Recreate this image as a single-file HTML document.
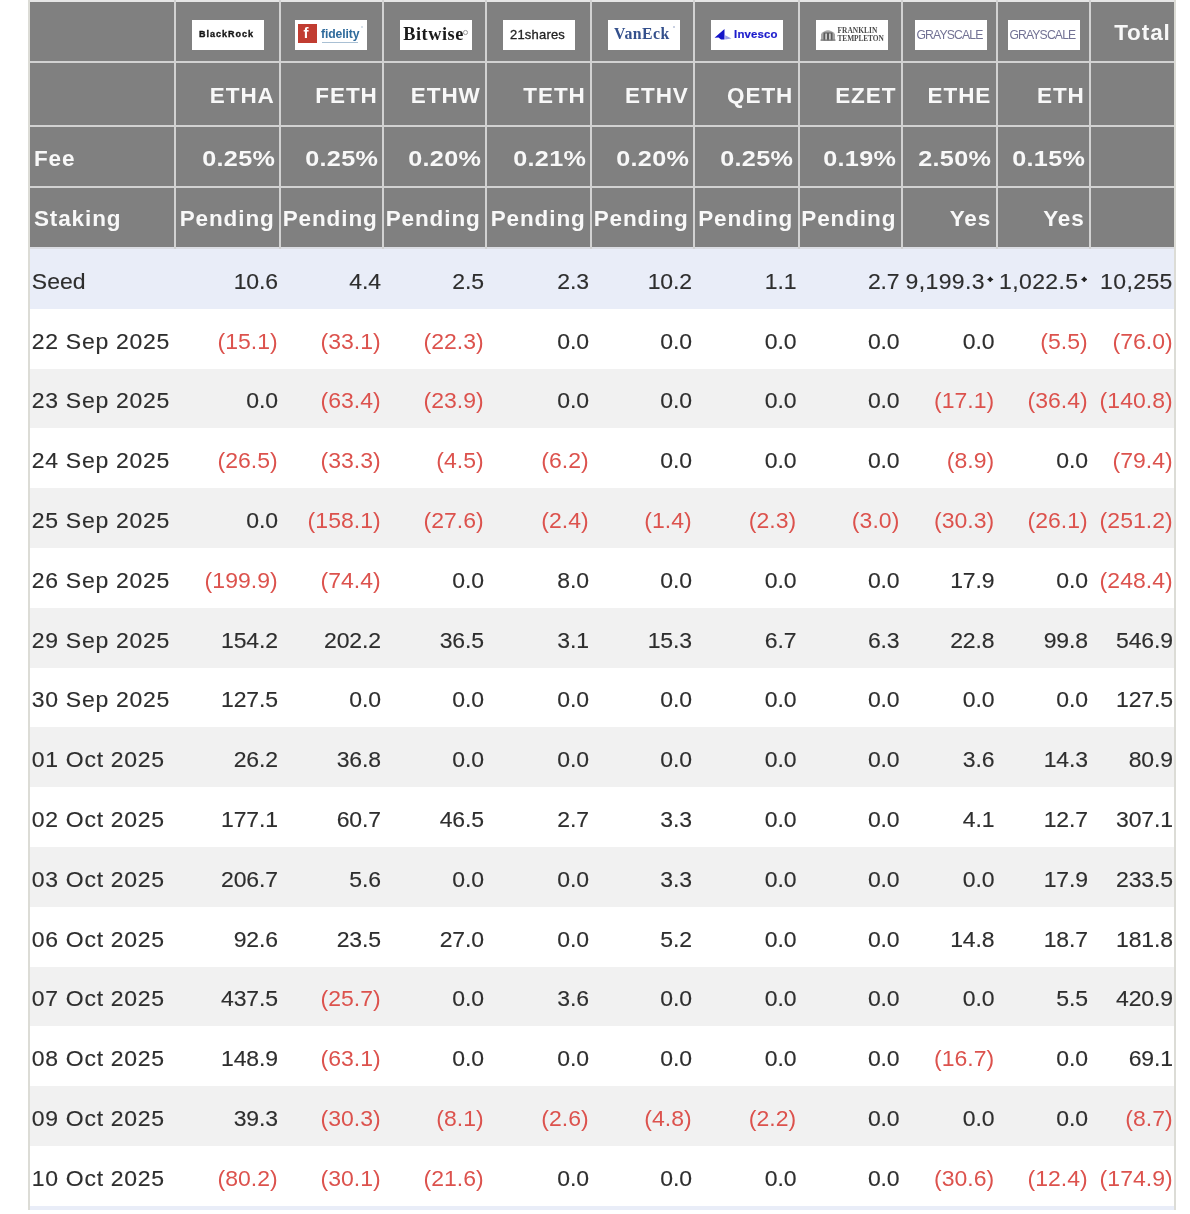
<!DOCTYPE html>
<html><head><meta charset="utf-8"><style>
html,body{margin:0;padding:0;background:#fff;width:1190px;height:1214px;overflow:hidden;position:relative}
#w{position:absolute;left:0;top:0;width:1190px;height:1214px;filter:blur(0.5px)}
#w>div{position:absolute}
.hdr{background:#808080}
.hl,.vl{background:#d2d2d2}
.ob{background:#dcdcd6}
.t{-webkit-text-stroke:0.15px currentColor;font-family:"Liberation Sans",sans-serif;font-size:22.5px;line-height:25px;white-space:nowrap;color:#2e2e2e;letter-spacing:-0.15px}
.b{font-weight:bold;color:#f8f8f8;-webkit-text-stroke:0}
.r{-webkit-text-stroke:0}
.ast{position:relative;top:-7px;margin-left:2.4px;margin-right:0.4px}
.logo{position:absolute;background:#fff;width:72px;height:30px;top:19.6px;overflow:hidden}
.logo *{position:absolute}
</style></head><body><div id="w">
<div class="hdr" style="left:29px;top:2px;width:1145px;height:245px"></div>
<div class="hl" style="left:28px;top:0.00px;width:1147px;height:2px;background:#e6e6e6"></div>
<div class="hl" style="left:28px;top:61.40px;width:1147px;height:2px;background:#d2d2d2"></div>
<div class="hl" style="left:28px;top:124.50px;width:1147px;height:2px;background:#d2d2d2"></div>
<div class="hl" style="left:28px;top:185.90px;width:1147px;height:2px;background:#d2d2d2"></div>
<div class="hl" style="left:28px;top:247.00px;width:1147px;height:2px;background:#dcdee4"></div>
<div class="vl" style="left:174.00px;top:0px;width:2px;height:249px"></div>
<div class="vl" style="left:279.00px;top:0px;width:2px;height:249px"></div>
<div class="vl" style="left:382.00px;top:0px;width:2px;height:249px"></div>
<div class="vl" style="left:485.00px;top:0px;width:2px;height:249px"></div>
<div class="vl" style="left:590.00px;top:0px;width:2px;height:249px"></div>
<div class="vl" style="left:693.00px;top:0px;width:2px;height:249px"></div>
<div class="vl" style="left:797.50px;top:0px;width:2px;height:249px"></div>
<div class="vl" style="left:900.60px;top:0px;width:2px;height:249px"></div>
<div class="vl" style="left:995.50px;top:0px;width:2px;height:249px"></div>
<div class="vl" style="left:1089.00px;top:0px;width:2px;height:249px"></div>
<div class="bg" style="left:29px;top:249.00px;width:1145px;height:59.80px;background:#e9edf8"></div>
<div class="bg" style="left:29px;top:308.80px;width:1145px;height:59.80px;background:#ffffff"></div>
<div class="bg" style="left:29px;top:368.60px;width:1145px;height:59.80px;background:#f1f1f1"></div>
<div class="bg" style="left:29px;top:428.40px;width:1145px;height:59.80px;background:#ffffff"></div>
<div class="bg" style="left:29px;top:488.20px;width:1145px;height:59.80px;background:#f1f1f1"></div>
<div class="bg" style="left:29px;top:548.00px;width:1145px;height:59.80px;background:#ffffff"></div>
<div class="bg" style="left:29px;top:607.80px;width:1145px;height:59.80px;background:#f1f1f1"></div>
<div class="bg" style="left:29px;top:667.60px;width:1145px;height:59.80px;background:#ffffff"></div>
<div class="bg" style="left:29px;top:727.40px;width:1145px;height:59.80px;background:#f1f1f1"></div>
<div class="bg" style="left:29px;top:787.20px;width:1145px;height:59.80px;background:#ffffff"></div>
<div class="bg" style="left:29px;top:847.00px;width:1145px;height:59.80px;background:#f1f1f1"></div>
<div class="bg" style="left:29px;top:906.80px;width:1145px;height:59.80px;background:#ffffff"></div>
<div class="bg" style="left:29px;top:966.60px;width:1145px;height:59.80px;background:#f1f1f1"></div>
<div class="bg" style="left:29px;top:1026.40px;width:1145px;height:59.80px;background:#ffffff"></div>
<div class="bg" style="left:29px;top:1086.20px;width:1145px;height:59.80px;background:#f1f1f1"></div>
<div class="bg" style="left:29px;top:1146.00px;width:1145px;height:59.80px;background:#ffffff"></div>
<div class="bg" style="left:29px;top:1205.80px;width:1145px;height:3.80px;background:#e9edf8"></div>
<div class="ob" style="left:27.8px;top:0;width:1.8px;height:1209.6px"></div>
<div class="ob" style="left:1174.1px;top:0;width:1.6px;height:1209.6px"></div>
<div class="t b" style="top:20.34px;font-size:22.50px;line-height:25px;right:19.30px;letter-spacing:0.90px;">Total</div>
<div class="t b" style="top:82.59px;font-size:22.50px;line-height:25px;right:915.30px;letter-spacing:0.90px;">ETHA</div>
<div class="t b" style="top:82.59px;font-size:22.50px;line-height:25px;right:812.30px;letter-spacing:0.90px;">FETH</div>
<div class="t b" style="top:82.59px;font-size:22.50px;line-height:25px;right:709.30px;letter-spacing:0.90px;">ETHW</div>
<div class="t b" style="top:82.59px;font-size:22.50px;line-height:25px;right:604.30px;letter-spacing:0.90px;">TETH</div>
<div class="t b" style="top:82.59px;font-size:22.50px;line-height:25px;right:501.30px;letter-spacing:0.90px;">ETHV</div>
<div class="t b" style="top:82.59px;font-size:22.50px;line-height:25px;right:396.80px;letter-spacing:0.90px;">QETH</div>
<div class="t b" style="top:82.59px;font-size:22.50px;line-height:25px;right:293.70px;letter-spacing:0.90px;">EZET</div>
<div class="t b" style="top:82.59px;font-size:22.50px;line-height:25px;right:198.80px;letter-spacing:0.90px;">ETHE</div>
<div class="t b" style="top:82.59px;font-size:22.50px;line-height:25px;right:105.30px;letter-spacing:0.90px;">ETH</div>
<div class="t b" style="top:145.54px;font-size:22.50px;line-height:25px;left:33.90px;letter-spacing:0.90px;">Fee</div>
<div class="t b" style="top:145.54px;font-size:22.50px;line-height:25px;right:915.00px;letter-spacing:0.30px;transform:scaleX(1.120);transform-origin:100% 50%;">0.25%</div>
<div class="t b" style="top:145.54px;font-size:22.50px;line-height:25px;right:812.00px;letter-spacing:0.30px;transform:scaleX(1.120);transform-origin:100% 50%;">0.25%</div>
<div class="t b" style="top:145.54px;font-size:22.50px;line-height:25px;right:709.00px;letter-spacing:0.30px;transform:scaleX(1.120);transform-origin:100% 50%;">0.20%</div>
<div class="t b" style="top:145.54px;font-size:22.50px;line-height:25px;right:604.00px;letter-spacing:0.30px;transform:scaleX(1.120);transform-origin:100% 50%;">0.21%</div>
<div class="t b" style="top:145.54px;font-size:22.50px;line-height:25px;right:501.00px;letter-spacing:0.30px;transform:scaleX(1.120);transform-origin:100% 50%;">0.20%</div>
<div class="t b" style="top:145.54px;font-size:22.50px;line-height:25px;right:396.50px;letter-spacing:0.30px;transform:scaleX(1.120);transform-origin:100% 50%;">0.25%</div>
<div class="t b" style="top:145.54px;font-size:22.50px;line-height:25px;right:293.40px;letter-spacing:0.30px;transform:scaleX(1.120);transform-origin:100% 50%;">0.19%</div>
<div class="t b" style="top:145.54px;font-size:22.50px;line-height:25px;right:198.50px;letter-spacing:0.30px;transform:scaleX(1.120);transform-origin:100% 50%;">2.50%</div>
<div class="t b" style="top:145.54px;font-size:22.50px;line-height:25px;right:105.00px;letter-spacing:0.30px;transform:scaleX(1.120);transform-origin:100% 50%;">0.15%</div>
<div class="t b" style="top:206.09px;font-size:22.50px;line-height:25px;left:33.90px;letter-spacing:0.90px;">Staking</div>
<div class="t b" style="top:206.09px;font-size:22.50px;line-height:25px;right:915.30px;letter-spacing:0.90px;">Pending</div>
<div class="t b" style="top:206.09px;font-size:22.50px;line-height:25px;right:812.30px;letter-spacing:0.90px;">Pending</div>
<div class="t b" style="top:206.09px;font-size:22.50px;line-height:25px;right:709.30px;letter-spacing:0.90px;">Pending</div>
<div class="t b" style="top:206.09px;font-size:22.50px;line-height:25px;right:604.30px;letter-spacing:0.90px;">Pending</div>
<div class="t b" style="top:206.09px;font-size:22.50px;line-height:25px;right:501.30px;letter-spacing:0.90px;">Pending</div>
<div class="t b" style="top:206.09px;font-size:22.50px;line-height:25px;right:396.80px;letter-spacing:0.90px;">Pending</div>
<div class="t b" style="top:206.09px;font-size:22.50px;line-height:25px;right:293.70px;letter-spacing:0.90px;">Pending</div>
<div class="t b" style="top:206.09px;font-size:22.50px;line-height:25px;right:198.80px;letter-spacing:0.90px;">Yes</div>
<div class="t b" style="top:206.09px;font-size:22.50px;line-height:25px;right:105.30px;letter-spacing:0.90px;">Yes</div>
<div class="t" style="top:267.71px;font-size:23.00px;line-height:26px;left:31.80px;letter-spacing:0.00px;transform:scaleY(0.985);transform-origin:50% 21px;">Seed</div>
<div class="t" style="top:267.71px;font-size:23.00px;line-height:26px;right:912.20px;letter-spacing:-0.15px;transform:scaleY(0.985);transform-origin:50% 21px;">10.6</div>
<div class="t" style="top:267.71px;font-size:23.00px;line-height:26px;right:809.20px;letter-spacing:-0.15px;transform:scaleY(0.985);transform-origin:50% 21px;">4.4</div>
<div class="t" style="top:267.71px;font-size:23.00px;line-height:26px;right:706.20px;letter-spacing:-0.15px;transform:scaleY(0.985);transform-origin:50% 21px;">2.5</div>
<div class="t" style="top:267.71px;font-size:23.00px;line-height:26px;right:601.20px;letter-spacing:-0.15px;transform:scaleY(0.985);transform-origin:50% 21px;">2.3</div>
<div class="t" style="top:267.71px;font-size:23.00px;line-height:26px;right:498.20px;letter-spacing:-0.15px;transform:scaleY(0.985);transform-origin:50% 21px;">10.2</div>
<div class="t" style="top:267.71px;font-size:23.00px;line-height:26px;right:393.70px;letter-spacing:-0.15px;transform:scaleY(0.985);transform-origin:50% 21px;">1.1</div>
<div class="t" style="top:267.71px;font-size:23.00px;line-height:26px;right:290.60px;letter-spacing:-0.15px;transform:scaleY(0.985);transform-origin:50% 21px;">2.7</div>
<div class="t" style="top:267.71px;font-size:23.00px;line-height:26px;right:195.70px;letter-spacing:0.40px;transform:scaleY(0.985);transform-origin:50% 21px;">9,199.3<svg class="ast" width="6.5" height="6.5" viewBox="0 0 6 6"><path d="M3 0 L4.2 1.8 L6 3 L4.2 4.2 L3 6 L1.8 4.2 L0 3 L1.8 1.8 Z" fill="#222"/></svg></div>
<div class="t" style="top:267.71px;font-size:23.00px;line-height:26px;right:102.20px;letter-spacing:0.40px;transform:scaleY(0.985);transform-origin:50% 21px;">1,022.5<svg class="ast" width="6.5" height="6.5" viewBox="0 0 6 6"><path d="M3 0 L4.2 1.8 L6 3 L4.2 4.2 L3 6 L1.8 4.2 L0 3 L1.8 1.8 Z" fill="#222"/></svg></div>
<div class="t" style="top:267.71px;font-size:23.00px;line-height:26px;right:17.20px;letter-spacing:0.40px;transform:scaleY(0.985);transform-origin:50% 21px;">10,255</div>
<div class="t" style="top:327.51px;font-size:23.00px;line-height:26px;left:31.80px;letter-spacing:0.70px;transform:scaleY(0.985);transform-origin:50% 21px;">22 Sep 2025</div>
<div class="t r" style="top:327.51px;font-size:23.00px;line-height:26px;right:912.20px;letter-spacing:0.05px;transform:scaleY(0.985);transform-origin:50% 21px;color:#dc524d;">(15.1)</div>
<div class="t r" style="top:327.51px;font-size:23.00px;line-height:26px;right:809.20px;letter-spacing:0.05px;transform:scaleY(0.985);transform-origin:50% 21px;color:#dc524d;">(33.1)</div>
<div class="t r" style="top:327.51px;font-size:23.00px;line-height:26px;right:706.20px;letter-spacing:0.05px;transform:scaleY(0.985);transform-origin:50% 21px;color:#dc524d;">(22.3)</div>
<div class="t" style="top:327.51px;font-size:23.00px;line-height:26px;right:601.20px;letter-spacing:-0.15px;transform:scaleY(0.985);transform-origin:50% 21px;">0.0</div>
<div class="t" style="top:327.51px;font-size:23.00px;line-height:26px;right:498.20px;letter-spacing:-0.15px;transform:scaleY(0.985);transform-origin:50% 21px;">0.0</div>
<div class="t" style="top:327.51px;font-size:23.00px;line-height:26px;right:393.70px;letter-spacing:-0.15px;transform:scaleY(0.985);transform-origin:50% 21px;">0.0</div>
<div class="t" style="top:327.51px;font-size:23.00px;line-height:26px;right:290.60px;letter-spacing:-0.15px;transform:scaleY(0.985);transform-origin:50% 21px;">0.0</div>
<div class="t" style="top:327.51px;font-size:23.00px;line-height:26px;right:195.70px;letter-spacing:-0.15px;transform:scaleY(0.985);transform-origin:50% 21px;">0.0</div>
<div class="t r" style="top:327.51px;font-size:23.00px;line-height:26px;right:102.20px;letter-spacing:0.05px;transform:scaleY(0.985);transform-origin:50% 21px;color:#dc524d;">(5.5)</div>
<div class="t r" style="top:327.51px;font-size:23.00px;line-height:26px;right:17.20px;letter-spacing:0.05px;transform:scaleY(0.985);transform-origin:50% 21px;color:#dc524d;">(76.0)</div>
<div class="t" style="top:387.31px;font-size:23.00px;line-height:26px;left:31.80px;letter-spacing:0.70px;transform:scaleY(0.985);transform-origin:50% 21px;">23 Sep 2025</div>
<div class="t" style="top:387.31px;font-size:23.00px;line-height:26px;right:912.20px;letter-spacing:-0.15px;transform:scaleY(0.985);transform-origin:50% 21px;">0.0</div>
<div class="t r" style="top:387.31px;font-size:23.00px;line-height:26px;right:809.20px;letter-spacing:0.05px;transform:scaleY(0.985);transform-origin:50% 21px;color:#dc524d;">(63.4)</div>
<div class="t r" style="top:387.31px;font-size:23.00px;line-height:26px;right:706.20px;letter-spacing:0.05px;transform:scaleY(0.985);transform-origin:50% 21px;color:#dc524d;">(23.9)</div>
<div class="t" style="top:387.31px;font-size:23.00px;line-height:26px;right:601.20px;letter-spacing:-0.15px;transform:scaleY(0.985);transform-origin:50% 21px;">0.0</div>
<div class="t" style="top:387.31px;font-size:23.00px;line-height:26px;right:498.20px;letter-spacing:-0.15px;transform:scaleY(0.985);transform-origin:50% 21px;">0.0</div>
<div class="t" style="top:387.31px;font-size:23.00px;line-height:26px;right:393.70px;letter-spacing:-0.15px;transform:scaleY(0.985);transform-origin:50% 21px;">0.0</div>
<div class="t" style="top:387.31px;font-size:23.00px;line-height:26px;right:290.60px;letter-spacing:-0.15px;transform:scaleY(0.985);transform-origin:50% 21px;">0.0</div>
<div class="t r" style="top:387.31px;font-size:23.00px;line-height:26px;right:195.70px;letter-spacing:0.05px;transform:scaleY(0.985);transform-origin:50% 21px;color:#dc524d;">(17.1)</div>
<div class="t r" style="top:387.31px;font-size:23.00px;line-height:26px;right:102.20px;letter-spacing:0.05px;transform:scaleY(0.985);transform-origin:50% 21px;color:#dc524d;">(36.4)</div>
<div class="t r" style="top:387.31px;font-size:23.00px;line-height:26px;right:17.20px;letter-spacing:0.05px;transform:scaleY(0.985);transform-origin:50% 21px;color:#dc524d;">(140.8)</div>
<div class="t" style="top:447.11px;font-size:23.00px;line-height:26px;left:31.80px;letter-spacing:0.70px;transform:scaleY(0.985);transform-origin:50% 21px;">24 Sep 2025</div>
<div class="t r" style="top:447.11px;font-size:23.00px;line-height:26px;right:912.20px;letter-spacing:0.05px;transform:scaleY(0.985);transform-origin:50% 21px;color:#dc524d;">(26.5)</div>
<div class="t r" style="top:447.11px;font-size:23.00px;line-height:26px;right:809.20px;letter-spacing:0.05px;transform:scaleY(0.985);transform-origin:50% 21px;color:#dc524d;">(33.3)</div>
<div class="t r" style="top:447.11px;font-size:23.00px;line-height:26px;right:706.20px;letter-spacing:0.05px;transform:scaleY(0.985);transform-origin:50% 21px;color:#dc524d;">(4.5)</div>
<div class="t r" style="top:447.11px;font-size:23.00px;line-height:26px;right:601.20px;letter-spacing:0.05px;transform:scaleY(0.985);transform-origin:50% 21px;color:#dc524d;">(6.2)</div>
<div class="t" style="top:447.11px;font-size:23.00px;line-height:26px;right:498.20px;letter-spacing:-0.15px;transform:scaleY(0.985);transform-origin:50% 21px;">0.0</div>
<div class="t" style="top:447.11px;font-size:23.00px;line-height:26px;right:393.70px;letter-spacing:-0.15px;transform:scaleY(0.985);transform-origin:50% 21px;">0.0</div>
<div class="t" style="top:447.11px;font-size:23.00px;line-height:26px;right:290.60px;letter-spacing:-0.15px;transform:scaleY(0.985);transform-origin:50% 21px;">0.0</div>
<div class="t r" style="top:447.11px;font-size:23.00px;line-height:26px;right:195.70px;letter-spacing:0.05px;transform:scaleY(0.985);transform-origin:50% 21px;color:#dc524d;">(8.9)</div>
<div class="t" style="top:447.11px;font-size:23.00px;line-height:26px;right:102.20px;letter-spacing:-0.15px;transform:scaleY(0.985);transform-origin:50% 21px;">0.0</div>
<div class="t r" style="top:447.11px;font-size:23.00px;line-height:26px;right:17.20px;letter-spacing:0.05px;transform:scaleY(0.985);transform-origin:50% 21px;color:#dc524d;">(79.4)</div>
<div class="t" style="top:506.91px;font-size:23.00px;line-height:26px;left:31.80px;letter-spacing:0.70px;transform:scaleY(0.985);transform-origin:50% 21px;">25 Sep 2025</div>
<div class="t" style="top:506.91px;font-size:23.00px;line-height:26px;right:912.20px;letter-spacing:-0.15px;transform:scaleY(0.985);transform-origin:50% 21px;">0.0</div>
<div class="t r" style="top:506.91px;font-size:23.00px;line-height:26px;right:809.20px;letter-spacing:0.05px;transform:scaleY(0.985);transform-origin:50% 21px;color:#dc524d;">(158.1)</div>
<div class="t r" style="top:506.91px;font-size:23.00px;line-height:26px;right:706.20px;letter-spacing:0.05px;transform:scaleY(0.985);transform-origin:50% 21px;color:#dc524d;">(27.6)</div>
<div class="t r" style="top:506.91px;font-size:23.00px;line-height:26px;right:601.20px;letter-spacing:0.05px;transform:scaleY(0.985);transform-origin:50% 21px;color:#dc524d;">(2.4)</div>
<div class="t r" style="top:506.91px;font-size:23.00px;line-height:26px;right:498.20px;letter-spacing:0.05px;transform:scaleY(0.985);transform-origin:50% 21px;color:#dc524d;">(1.4)</div>
<div class="t r" style="top:506.91px;font-size:23.00px;line-height:26px;right:393.70px;letter-spacing:0.05px;transform:scaleY(0.985);transform-origin:50% 21px;color:#dc524d;">(2.3)</div>
<div class="t r" style="top:506.91px;font-size:23.00px;line-height:26px;right:290.60px;letter-spacing:0.05px;transform:scaleY(0.985);transform-origin:50% 21px;color:#dc524d;">(3.0)</div>
<div class="t r" style="top:506.91px;font-size:23.00px;line-height:26px;right:195.70px;letter-spacing:0.05px;transform:scaleY(0.985);transform-origin:50% 21px;color:#dc524d;">(30.3)</div>
<div class="t r" style="top:506.91px;font-size:23.00px;line-height:26px;right:102.20px;letter-spacing:0.05px;transform:scaleY(0.985);transform-origin:50% 21px;color:#dc524d;">(26.1)</div>
<div class="t r" style="top:506.91px;font-size:23.00px;line-height:26px;right:17.20px;letter-spacing:0.05px;transform:scaleY(0.985);transform-origin:50% 21px;color:#dc524d;">(251.2)</div>
<div class="t" style="top:566.71px;font-size:23.00px;line-height:26px;left:31.80px;letter-spacing:0.70px;transform:scaleY(0.985);transform-origin:50% 21px;">26 Sep 2025</div>
<div class="t r" style="top:566.71px;font-size:23.00px;line-height:26px;right:912.20px;letter-spacing:0.05px;transform:scaleY(0.985);transform-origin:50% 21px;color:#dc524d;">(199.9)</div>
<div class="t r" style="top:566.71px;font-size:23.00px;line-height:26px;right:809.20px;letter-spacing:0.05px;transform:scaleY(0.985);transform-origin:50% 21px;color:#dc524d;">(74.4)</div>
<div class="t" style="top:566.71px;font-size:23.00px;line-height:26px;right:706.20px;letter-spacing:-0.15px;transform:scaleY(0.985);transform-origin:50% 21px;">0.0</div>
<div class="t" style="top:566.71px;font-size:23.00px;line-height:26px;right:601.20px;letter-spacing:-0.15px;transform:scaleY(0.985);transform-origin:50% 21px;">8.0</div>
<div class="t" style="top:566.71px;font-size:23.00px;line-height:26px;right:498.20px;letter-spacing:-0.15px;transform:scaleY(0.985);transform-origin:50% 21px;">0.0</div>
<div class="t" style="top:566.71px;font-size:23.00px;line-height:26px;right:393.70px;letter-spacing:-0.15px;transform:scaleY(0.985);transform-origin:50% 21px;">0.0</div>
<div class="t" style="top:566.71px;font-size:23.00px;line-height:26px;right:290.60px;letter-spacing:-0.15px;transform:scaleY(0.985);transform-origin:50% 21px;">0.0</div>
<div class="t" style="top:566.71px;font-size:23.00px;line-height:26px;right:195.70px;letter-spacing:-0.15px;transform:scaleY(0.985);transform-origin:50% 21px;">17.9</div>
<div class="t" style="top:566.71px;font-size:23.00px;line-height:26px;right:102.20px;letter-spacing:-0.15px;transform:scaleY(0.985);transform-origin:50% 21px;">0.0</div>
<div class="t r" style="top:566.71px;font-size:23.00px;line-height:26px;right:17.20px;letter-spacing:0.05px;transform:scaleY(0.985);transform-origin:50% 21px;color:#dc524d;">(248.4)</div>
<div class="t" style="top:626.51px;font-size:23.00px;line-height:26px;left:31.80px;letter-spacing:0.70px;transform:scaleY(0.985);transform-origin:50% 21px;">29 Sep 2025</div>
<div class="t" style="top:626.51px;font-size:23.00px;line-height:26px;right:912.20px;letter-spacing:-0.15px;transform:scaleY(0.985);transform-origin:50% 21px;">154.2</div>
<div class="t" style="top:626.51px;font-size:23.00px;line-height:26px;right:809.20px;letter-spacing:-0.15px;transform:scaleY(0.985);transform-origin:50% 21px;">202.2</div>
<div class="t" style="top:626.51px;font-size:23.00px;line-height:26px;right:706.20px;letter-spacing:-0.15px;transform:scaleY(0.985);transform-origin:50% 21px;">36.5</div>
<div class="t" style="top:626.51px;font-size:23.00px;line-height:26px;right:601.20px;letter-spacing:-0.15px;transform:scaleY(0.985);transform-origin:50% 21px;">3.1</div>
<div class="t" style="top:626.51px;font-size:23.00px;line-height:26px;right:498.20px;letter-spacing:-0.15px;transform:scaleY(0.985);transform-origin:50% 21px;">15.3</div>
<div class="t" style="top:626.51px;font-size:23.00px;line-height:26px;right:393.70px;letter-spacing:-0.15px;transform:scaleY(0.985);transform-origin:50% 21px;">6.7</div>
<div class="t" style="top:626.51px;font-size:23.00px;line-height:26px;right:290.60px;letter-spacing:-0.15px;transform:scaleY(0.985);transform-origin:50% 21px;">6.3</div>
<div class="t" style="top:626.51px;font-size:23.00px;line-height:26px;right:195.70px;letter-spacing:-0.15px;transform:scaleY(0.985);transform-origin:50% 21px;">22.8</div>
<div class="t" style="top:626.51px;font-size:23.00px;line-height:26px;right:102.20px;letter-spacing:-0.15px;transform:scaleY(0.985);transform-origin:50% 21px;">99.8</div>
<div class="t" style="top:626.51px;font-size:23.00px;line-height:26px;right:17.20px;letter-spacing:-0.15px;transform:scaleY(0.985);transform-origin:50% 21px;">546.9</div>
<div class="t" style="top:686.31px;font-size:23.00px;line-height:26px;left:31.80px;letter-spacing:0.70px;transform:scaleY(0.985);transform-origin:50% 21px;">30 Sep 2025</div>
<div class="t" style="top:686.31px;font-size:23.00px;line-height:26px;right:912.20px;letter-spacing:-0.15px;transform:scaleY(0.985);transform-origin:50% 21px;">127.5</div>
<div class="t" style="top:686.31px;font-size:23.00px;line-height:26px;right:809.20px;letter-spacing:-0.15px;transform:scaleY(0.985);transform-origin:50% 21px;">0.0</div>
<div class="t" style="top:686.31px;font-size:23.00px;line-height:26px;right:706.20px;letter-spacing:-0.15px;transform:scaleY(0.985);transform-origin:50% 21px;">0.0</div>
<div class="t" style="top:686.31px;font-size:23.00px;line-height:26px;right:601.20px;letter-spacing:-0.15px;transform:scaleY(0.985);transform-origin:50% 21px;">0.0</div>
<div class="t" style="top:686.31px;font-size:23.00px;line-height:26px;right:498.20px;letter-spacing:-0.15px;transform:scaleY(0.985);transform-origin:50% 21px;">0.0</div>
<div class="t" style="top:686.31px;font-size:23.00px;line-height:26px;right:393.70px;letter-spacing:-0.15px;transform:scaleY(0.985);transform-origin:50% 21px;">0.0</div>
<div class="t" style="top:686.31px;font-size:23.00px;line-height:26px;right:290.60px;letter-spacing:-0.15px;transform:scaleY(0.985);transform-origin:50% 21px;">0.0</div>
<div class="t" style="top:686.31px;font-size:23.00px;line-height:26px;right:195.70px;letter-spacing:-0.15px;transform:scaleY(0.985);transform-origin:50% 21px;">0.0</div>
<div class="t" style="top:686.31px;font-size:23.00px;line-height:26px;right:102.20px;letter-spacing:-0.15px;transform:scaleY(0.985);transform-origin:50% 21px;">0.0</div>
<div class="t" style="top:686.31px;font-size:23.00px;line-height:26px;right:17.20px;letter-spacing:-0.15px;transform:scaleY(0.985);transform-origin:50% 21px;">127.5</div>
<div class="t" style="top:746.11px;font-size:23.00px;line-height:26px;left:31.80px;letter-spacing:0.70px;transform:scaleY(0.985);transform-origin:50% 21px;">01 Oct 2025</div>
<div class="t" style="top:746.11px;font-size:23.00px;line-height:26px;right:912.20px;letter-spacing:-0.15px;transform:scaleY(0.985);transform-origin:50% 21px;">26.2</div>
<div class="t" style="top:746.11px;font-size:23.00px;line-height:26px;right:809.20px;letter-spacing:-0.15px;transform:scaleY(0.985);transform-origin:50% 21px;">36.8</div>
<div class="t" style="top:746.11px;font-size:23.00px;line-height:26px;right:706.20px;letter-spacing:-0.15px;transform:scaleY(0.985);transform-origin:50% 21px;">0.0</div>
<div class="t" style="top:746.11px;font-size:23.00px;line-height:26px;right:601.20px;letter-spacing:-0.15px;transform:scaleY(0.985);transform-origin:50% 21px;">0.0</div>
<div class="t" style="top:746.11px;font-size:23.00px;line-height:26px;right:498.20px;letter-spacing:-0.15px;transform:scaleY(0.985);transform-origin:50% 21px;">0.0</div>
<div class="t" style="top:746.11px;font-size:23.00px;line-height:26px;right:393.70px;letter-spacing:-0.15px;transform:scaleY(0.985);transform-origin:50% 21px;">0.0</div>
<div class="t" style="top:746.11px;font-size:23.00px;line-height:26px;right:290.60px;letter-spacing:-0.15px;transform:scaleY(0.985);transform-origin:50% 21px;">0.0</div>
<div class="t" style="top:746.11px;font-size:23.00px;line-height:26px;right:195.70px;letter-spacing:-0.15px;transform:scaleY(0.985);transform-origin:50% 21px;">3.6</div>
<div class="t" style="top:746.11px;font-size:23.00px;line-height:26px;right:102.20px;letter-spacing:-0.15px;transform:scaleY(0.985);transform-origin:50% 21px;">14.3</div>
<div class="t" style="top:746.11px;font-size:23.00px;line-height:26px;right:17.20px;letter-spacing:-0.15px;transform:scaleY(0.985);transform-origin:50% 21px;">80.9</div>
<div class="t" style="top:805.91px;font-size:23.00px;line-height:26px;left:31.80px;letter-spacing:0.70px;transform:scaleY(0.985);transform-origin:50% 21px;">02 Oct 2025</div>
<div class="t" style="top:805.91px;font-size:23.00px;line-height:26px;right:912.20px;letter-spacing:-0.15px;transform:scaleY(0.985);transform-origin:50% 21px;">177.1</div>
<div class="t" style="top:805.91px;font-size:23.00px;line-height:26px;right:809.20px;letter-spacing:-0.15px;transform:scaleY(0.985);transform-origin:50% 21px;">60.7</div>
<div class="t" style="top:805.91px;font-size:23.00px;line-height:26px;right:706.20px;letter-spacing:-0.15px;transform:scaleY(0.985);transform-origin:50% 21px;">46.5</div>
<div class="t" style="top:805.91px;font-size:23.00px;line-height:26px;right:601.20px;letter-spacing:-0.15px;transform:scaleY(0.985);transform-origin:50% 21px;">2.7</div>
<div class="t" style="top:805.91px;font-size:23.00px;line-height:26px;right:498.20px;letter-spacing:-0.15px;transform:scaleY(0.985);transform-origin:50% 21px;">3.3</div>
<div class="t" style="top:805.91px;font-size:23.00px;line-height:26px;right:393.70px;letter-spacing:-0.15px;transform:scaleY(0.985);transform-origin:50% 21px;">0.0</div>
<div class="t" style="top:805.91px;font-size:23.00px;line-height:26px;right:290.60px;letter-spacing:-0.15px;transform:scaleY(0.985);transform-origin:50% 21px;">0.0</div>
<div class="t" style="top:805.91px;font-size:23.00px;line-height:26px;right:195.70px;letter-spacing:-0.15px;transform:scaleY(0.985);transform-origin:50% 21px;">4.1</div>
<div class="t" style="top:805.91px;font-size:23.00px;line-height:26px;right:102.20px;letter-spacing:-0.15px;transform:scaleY(0.985);transform-origin:50% 21px;">12.7</div>
<div class="t" style="top:805.91px;font-size:23.00px;line-height:26px;right:17.20px;letter-spacing:-0.15px;transform:scaleY(0.985);transform-origin:50% 21px;">307.1</div>
<div class="t" style="top:865.71px;font-size:23.00px;line-height:26px;left:31.80px;letter-spacing:0.70px;transform:scaleY(0.985);transform-origin:50% 21px;">03 Oct 2025</div>
<div class="t" style="top:865.71px;font-size:23.00px;line-height:26px;right:912.20px;letter-spacing:-0.15px;transform:scaleY(0.985);transform-origin:50% 21px;">206.7</div>
<div class="t" style="top:865.71px;font-size:23.00px;line-height:26px;right:809.20px;letter-spacing:-0.15px;transform:scaleY(0.985);transform-origin:50% 21px;">5.6</div>
<div class="t" style="top:865.71px;font-size:23.00px;line-height:26px;right:706.20px;letter-spacing:-0.15px;transform:scaleY(0.985);transform-origin:50% 21px;">0.0</div>
<div class="t" style="top:865.71px;font-size:23.00px;line-height:26px;right:601.20px;letter-spacing:-0.15px;transform:scaleY(0.985);transform-origin:50% 21px;">0.0</div>
<div class="t" style="top:865.71px;font-size:23.00px;line-height:26px;right:498.20px;letter-spacing:-0.15px;transform:scaleY(0.985);transform-origin:50% 21px;">3.3</div>
<div class="t" style="top:865.71px;font-size:23.00px;line-height:26px;right:393.70px;letter-spacing:-0.15px;transform:scaleY(0.985);transform-origin:50% 21px;">0.0</div>
<div class="t" style="top:865.71px;font-size:23.00px;line-height:26px;right:290.60px;letter-spacing:-0.15px;transform:scaleY(0.985);transform-origin:50% 21px;">0.0</div>
<div class="t" style="top:865.71px;font-size:23.00px;line-height:26px;right:195.70px;letter-spacing:-0.15px;transform:scaleY(0.985);transform-origin:50% 21px;">0.0</div>
<div class="t" style="top:865.71px;font-size:23.00px;line-height:26px;right:102.20px;letter-spacing:-0.15px;transform:scaleY(0.985);transform-origin:50% 21px;">17.9</div>
<div class="t" style="top:865.71px;font-size:23.00px;line-height:26px;right:17.20px;letter-spacing:-0.15px;transform:scaleY(0.985);transform-origin:50% 21px;">233.5</div>
<div class="t" style="top:925.51px;font-size:23.00px;line-height:26px;left:31.80px;letter-spacing:0.70px;transform:scaleY(0.985);transform-origin:50% 21px;">06 Oct 2025</div>
<div class="t" style="top:925.51px;font-size:23.00px;line-height:26px;right:912.20px;letter-spacing:-0.15px;transform:scaleY(0.985);transform-origin:50% 21px;">92.6</div>
<div class="t" style="top:925.51px;font-size:23.00px;line-height:26px;right:809.20px;letter-spacing:-0.15px;transform:scaleY(0.985);transform-origin:50% 21px;">23.5</div>
<div class="t" style="top:925.51px;font-size:23.00px;line-height:26px;right:706.20px;letter-spacing:-0.15px;transform:scaleY(0.985);transform-origin:50% 21px;">27.0</div>
<div class="t" style="top:925.51px;font-size:23.00px;line-height:26px;right:601.20px;letter-spacing:-0.15px;transform:scaleY(0.985);transform-origin:50% 21px;">0.0</div>
<div class="t" style="top:925.51px;font-size:23.00px;line-height:26px;right:498.20px;letter-spacing:-0.15px;transform:scaleY(0.985);transform-origin:50% 21px;">5.2</div>
<div class="t" style="top:925.51px;font-size:23.00px;line-height:26px;right:393.70px;letter-spacing:-0.15px;transform:scaleY(0.985);transform-origin:50% 21px;">0.0</div>
<div class="t" style="top:925.51px;font-size:23.00px;line-height:26px;right:290.60px;letter-spacing:-0.15px;transform:scaleY(0.985);transform-origin:50% 21px;">0.0</div>
<div class="t" style="top:925.51px;font-size:23.00px;line-height:26px;right:195.70px;letter-spacing:-0.15px;transform:scaleY(0.985);transform-origin:50% 21px;">14.8</div>
<div class="t" style="top:925.51px;font-size:23.00px;line-height:26px;right:102.20px;letter-spacing:-0.15px;transform:scaleY(0.985);transform-origin:50% 21px;">18.7</div>
<div class="t" style="top:925.51px;font-size:23.00px;line-height:26px;right:17.20px;letter-spacing:-0.15px;transform:scaleY(0.985);transform-origin:50% 21px;">181.8</div>
<div class="t" style="top:985.31px;font-size:23.00px;line-height:26px;left:31.80px;letter-spacing:0.70px;transform:scaleY(0.985);transform-origin:50% 21px;">07 Oct 2025</div>
<div class="t" style="top:985.31px;font-size:23.00px;line-height:26px;right:912.20px;letter-spacing:-0.15px;transform:scaleY(0.985);transform-origin:50% 21px;">437.5</div>
<div class="t r" style="top:985.31px;font-size:23.00px;line-height:26px;right:809.20px;letter-spacing:0.05px;transform:scaleY(0.985);transform-origin:50% 21px;color:#dc524d;">(25.7)</div>
<div class="t" style="top:985.31px;font-size:23.00px;line-height:26px;right:706.20px;letter-spacing:-0.15px;transform:scaleY(0.985);transform-origin:50% 21px;">0.0</div>
<div class="t" style="top:985.31px;font-size:23.00px;line-height:26px;right:601.20px;letter-spacing:-0.15px;transform:scaleY(0.985);transform-origin:50% 21px;">3.6</div>
<div class="t" style="top:985.31px;font-size:23.00px;line-height:26px;right:498.20px;letter-spacing:-0.15px;transform:scaleY(0.985);transform-origin:50% 21px;">0.0</div>
<div class="t" style="top:985.31px;font-size:23.00px;line-height:26px;right:393.70px;letter-spacing:-0.15px;transform:scaleY(0.985);transform-origin:50% 21px;">0.0</div>
<div class="t" style="top:985.31px;font-size:23.00px;line-height:26px;right:290.60px;letter-spacing:-0.15px;transform:scaleY(0.985);transform-origin:50% 21px;">0.0</div>
<div class="t" style="top:985.31px;font-size:23.00px;line-height:26px;right:195.70px;letter-spacing:-0.15px;transform:scaleY(0.985);transform-origin:50% 21px;">0.0</div>
<div class="t" style="top:985.31px;font-size:23.00px;line-height:26px;right:102.20px;letter-spacing:-0.15px;transform:scaleY(0.985);transform-origin:50% 21px;">5.5</div>
<div class="t" style="top:985.31px;font-size:23.00px;line-height:26px;right:17.20px;letter-spacing:-0.15px;transform:scaleY(0.985);transform-origin:50% 21px;">420.9</div>
<div class="t" style="top:1045.11px;font-size:23.00px;line-height:26px;left:31.80px;letter-spacing:0.70px;transform:scaleY(0.985);transform-origin:50% 21px;">08 Oct 2025</div>
<div class="t" style="top:1045.11px;font-size:23.00px;line-height:26px;right:912.20px;letter-spacing:-0.15px;transform:scaleY(0.985);transform-origin:50% 21px;">148.9</div>
<div class="t r" style="top:1045.11px;font-size:23.00px;line-height:26px;right:809.20px;letter-spacing:0.05px;transform:scaleY(0.985);transform-origin:50% 21px;color:#dc524d;">(63.1)</div>
<div class="t" style="top:1045.11px;font-size:23.00px;line-height:26px;right:706.20px;letter-spacing:-0.15px;transform:scaleY(0.985);transform-origin:50% 21px;">0.0</div>
<div class="t" style="top:1045.11px;font-size:23.00px;line-height:26px;right:601.20px;letter-spacing:-0.15px;transform:scaleY(0.985);transform-origin:50% 21px;">0.0</div>
<div class="t" style="top:1045.11px;font-size:23.00px;line-height:26px;right:498.20px;letter-spacing:-0.15px;transform:scaleY(0.985);transform-origin:50% 21px;">0.0</div>
<div class="t" style="top:1045.11px;font-size:23.00px;line-height:26px;right:393.70px;letter-spacing:-0.15px;transform:scaleY(0.985);transform-origin:50% 21px;">0.0</div>
<div class="t" style="top:1045.11px;font-size:23.00px;line-height:26px;right:290.60px;letter-spacing:-0.15px;transform:scaleY(0.985);transform-origin:50% 21px;">0.0</div>
<div class="t r" style="top:1045.11px;font-size:23.00px;line-height:26px;right:195.70px;letter-spacing:0.05px;transform:scaleY(0.985);transform-origin:50% 21px;color:#dc524d;">(16.7)</div>
<div class="t" style="top:1045.11px;font-size:23.00px;line-height:26px;right:102.20px;letter-spacing:-0.15px;transform:scaleY(0.985);transform-origin:50% 21px;">0.0</div>
<div class="t" style="top:1045.11px;font-size:23.00px;line-height:26px;right:17.20px;letter-spacing:-0.15px;transform:scaleY(0.985);transform-origin:50% 21px;">69.1</div>
<div class="t" style="top:1104.91px;font-size:23.00px;line-height:26px;left:31.80px;letter-spacing:0.70px;transform:scaleY(0.985);transform-origin:50% 21px;">09 Oct 2025</div>
<div class="t" style="top:1104.91px;font-size:23.00px;line-height:26px;right:912.20px;letter-spacing:-0.15px;transform:scaleY(0.985);transform-origin:50% 21px;">39.3</div>
<div class="t r" style="top:1104.91px;font-size:23.00px;line-height:26px;right:809.20px;letter-spacing:0.05px;transform:scaleY(0.985);transform-origin:50% 21px;color:#dc524d;">(30.3)</div>
<div class="t r" style="top:1104.91px;font-size:23.00px;line-height:26px;right:706.20px;letter-spacing:0.05px;transform:scaleY(0.985);transform-origin:50% 21px;color:#dc524d;">(8.1)</div>
<div class="t r" style="top:1104.91px;font-size:23.00px;line-height:26px;right:601.20px;letter-spacing:0.05px;transform:scaleY(0.985);transform-origin:50% 21px;color:#dc524d;">(2.6)</div>
<div class="t r" style="top:1104.91px;font-size:23.00px;line-height:26px;right:498.20px;letter-spacing:0.05px;transform:scaleY(0.985);transform-origin:50% 21px;color:#dc524d;">(4.8)</div>
<div class="t r" style="top:1104.91px;font-size:23.00px;line-height:26px;right:393.70px;letter-spacing:0.05px;transform:scaleY(0.985);transform-origin:50% 21px;color:#dc524d;">(2.2)</div>
<div class="t" style="top:1104.91px;font-size:23.00px;line-height:26px;right:290.60px;letter-spacing:-0.15px;transform:scaleY(0.985);transform-origin:50% 21px;">0.0</div>
<div class="t" style="top:1104.91px;font-size:23.00px;line-height:26px;right:195.70px;letter-spacing:-0.15px;transform:scaleY(0.985);transform-origin:50% 21px;">0.0</div>
<div class="t" style="top:1104.91px;font-size:23.00px;line-height:26px;right:102.20px;letter-spacing:-0.15px;transform:scaleY(0.985);transform-origin:50% 21px;">0.0</div>
<div class="t r" style="top:1104.91px;font-size:23.00px;line-height:26px;right:17.20px;letter-spacing:0.05px;transform:scaleY(0.985);transform-origin:50% 21px;color:#dc524d;">(8.7)</div>
<div class="t" style="top:1164.71px;font-size:23.00px;line-height:26px;left:31.80px;letter-spacing:0.70px;transform:scaleY(0.985);transform-origin:50% 21px;">10 Oct 2025</div>
<div class="t r" style="top:1164.71px;font-size:23.00px;line-height:26px;right:912.20px;letter-spacing:0.05px;transform:scaleY(0.985);transform-origin:50% 21px;color:#dc524d;">(80.2)</div>
<div class="t r" style="top:1164.71px;font-size:23.00px;line-height:26px;right:809.20px;letter-spacing:0.05px;transform:scaleY(0.985);transform-origin:50% 21px;color:#dc524d;">(30.1)</div>
<div class="t r" style="top:1164.71px;font-size:23.00px;line-height:26px;right:706.20px;letter-spacing:0.05px;transform:scaleY(0.985);transform-origin:50% 21px;color:#dc524d;">(21.6)</div>
<div class="t" style="top:1164.71px;font-size:23.00px;line-height:26px;right:601.20px;letter-spacing:-0.15px;transform:scaleY(0.985);transform-origin:50% 21px;">0.0</div>
<div class="t" style="top:1164.71px;font-size:23.00px;line-height:26px;right:498.20px;letter-spacing:-0.15px;transform:scaleY(0.985);transform-origin:50% 21px;">0.0</div>
<div class="t" style="top:1164.71px;font-size:23.00px;line-height:26px;right:393.70px;letter-spacing:-0.15px;transform:scaleY(0.985);transform-origin:50% 21px;">0.0</div>
<div class="t" style="top:1164.71px;font-size:23.00px;line-height:26px;right:290.60px;letter-spacing:-0.15px;transform:scaleY(0.985);transform-origin:50% 21px;">0.0</div>
<div class="t r" style="top:1164.71px;font-size:23.00px;line-height:26px;right:195.70px;letter-spacing:0.05px;transform:scaleY(0.985);transform-origin:50% 21px;color:#dc524d;">(30.6)</div>
<div class="t r" style="top:1164.71px;font-size:23.00px;line-height:26px;right:102.20px;letter-spacing:0.05px;transform:scaleY(0.985);transform-origin:50% 21px;color:#dc524d;">(12.4)</div>
<div class="t r" style="top:1164.71px;font-size:23.00px;line-height:26px;right:17.20px;letter-spacing:0.05px;transform:scaleY(0.985);transform-origin:50% 21px;color:#dc524d;">(174.9)</div>
<div class="logo" style="left:191.5px">
  <div style="left:7.6px;top:9.4px;font:bold 9px/11px 'Liberation Sans',sans-serif;letter-spacing:1.0px;color:#151515;-webkit-text-stroke:0.35px #151515">BlackRock</div>
</div>
<div class="logo" style="left:294.7px">
  <div style="left:3.5px;top:4.9px;width:19.3px;height:18.5px;background:#c13c31"></div>
  <div style="left:8.8px;top:4.2px;font:bold 15px/18px 'Liberation Sans',sans-serif;color:#fff">f</div>
  <div style="left:26.3px;top:7.6px;font:bold 12.2px/14px 'Liberation Sans',sans-serif;letter-spacing:-0.1px;color:#2f6b9c">fidelity</div>
  <div style="left:27px;top:22.6px;width:36px;height:1px;background:#a9c0d4"></div>
  <div style="left:66px;top:6px;width:2px;height:2px;border-radius:1px;background:#c9d6e2"></div>
</div>
<div class="logo" style="left:399.8px">
  <div style="left:3.4px;top:4.4px;font:bold 18.3px/20px 'Liberation Serif',serif;letter-spacing:0.55px;color:#1a1a1a">Bitwise</div>
  <div style="left:63.6px;top:10.4px;width:2.6px;height:2.6px;border:1px solid #999;border-radius:50%"></div>
</div>
<div class="logo" style="left:502.6px">
  <div style="left:7.4px;top:7.2px;font:13px/15px 'Liberation Sans',sans-serif;letter-spacing:0.2px;color:#222;-webkit-text-stroke:0.3px #222">21shares</div>
</div>
<div class="logo" style="left:607.8px">
  <div style="left:6.2px;top:5.5px;font:bold 15.8px/17px 'Liberation Serif',serif;letter-spacing:0.45px;color:#34508c">VanEck</div>
  <div style="left:65.5px;top:6.8px;width:2px;height:2px;border-radius:1px;background:#b8c2d8"></div>
</div>
<div class="logo" style="left:710.8px">
  <svg style="left:3px;top:9.6px" width="18" height="11" viewBox="0 0 18 11"><path d="M10.5 0 L0.5 8.8 L4.5 8.6 L7 10.6 L10.5 10.6 Z" fill="#1414c8"/><path d="M11.2 6.2 L17.5 9.6 L11.2 10.6 Z" fill="#9a9ee8"/></svg>
  <div style="left:23.3px;top:8px;font:bold 11.4px/13px 'Liberation Sans',sans-serif;letter-spacing:0.15px;color:#1c1ccc;-webkit-text-stroke:0.2px #1c1ccc">Invesco</div>
</div>
<div class="logo" style="left:815.9px">
  <svg style="left:3.8px;top:8.2px" width="16" height="13" viewBox="0 0 16 13"><path d="M1 12.5 L1 6 Q8 -1.5 15 6 L15 12.5 Z" fill="#a8a8a8"/><rect x="3.5" y="4.5" width="9" height="8" fill="#5a5a5a"/><rect x="5.3" y="5.5" width="1.6" height="7" fill="#d8d8d8"/><rect x="9.1" y="5.5" width="1.6" height="7" fill="#d8d8d8"/><rect x="0.5" y="11.5" width="15" height="1.2" fill="#777"/></svg>
  <div style="left:21.6px;top:7.6px;font:bold 7.4px/8px 'Liberation Serif',serif;letter-spacing:0.05px;color:#4a4a4a">FRANKLIN</div>
  <div style="left:21.6px;top:15.5px;font:bold 7.4px/8px 'Liberation Serif',serif;letter-spacing:-0.1px;color:#4a4a4a">TEMPLETON</div>
</div>
<div class="logo" style="left:914.9px">
  <div style="left:1.6px;top:9.4px;font:12.2px/13px 'Liberation Sans',sans-serif;letter-spacing:-0.85px;color:#727294">GRAYSCALE</div>
</div>
<div class="logo" style="left:1007.8px">
  <div style="left:1.6px;top:9.4px;font:12.2px/13px 'Liberation Sans',sans-serif;letter-spacing:-0.85px;color:#727294">GRAYSCALE</div>
</div>

</div></body></html>
